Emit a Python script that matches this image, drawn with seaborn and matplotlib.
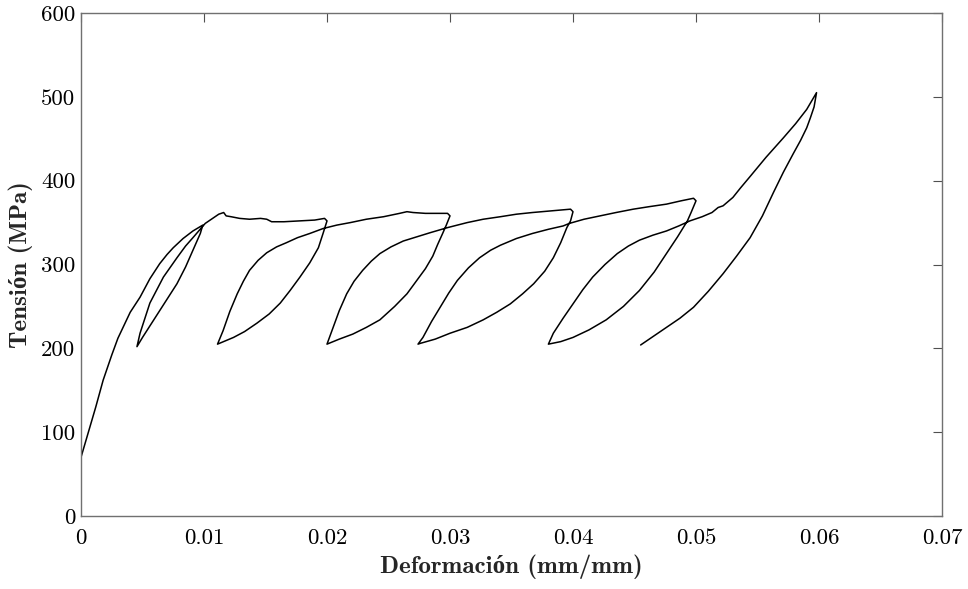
import matplotlib
matplotlib.use("Agg")
import matplotlib.pyplot as plt
import seaborn as sns
import pandas as pd

# ---- data ----
strain = [
    0.0000, 0.0005, 0.0012, 0.0018, 0.0025, 0.0030, 0.0040, 0.0048, 0.0056, 0.0064,
    0.0070, 0.0075, 0.0083, 0.0091, 0.0099,
    # loop 1 unload
    0.0097, 0.0091, 0.0085, 0.0078, 0.0071, 0.0064, 0.0057, 0.0050, 0.00455,
    # loop 1 reload
    0.0048, 0.0052, 0.0056, 0.0062, 0.0067, 0.0078, 0.0085, 0.0091, 0.0098, 0.0101,
    # plateau
    0.0107, 0.0112, 0.0116, 0.0118, 0.0122, 0.0129, 0.0137, 0.0146, 0.0151, 0.0155,
    0.0165, 0.0178, 0.0190, 0.0198, 0.0200,
    # loop 2 unload
    0.0197, 0.0193, 0.0186, 0.0178, 0.0170, 0.0162, 0.0153, 0.0143, 0.0133, 0.0124,
    0.0116, 0.0111,
    # loop 2 reload
    0.01155, 0.0121, 0.0127, 0.0132, 0.0137, 0.0144, 0.0151, 0.0159, 0.0167, 0.0176,
    0.0186, 0.0197, 0.0208, 0.0219, 0.0232, 0.0246, 0.0259, 0.0265, 0.0270, 0.0280,
    0.0290, 0.0298, 0.0300,
    # loop 3 unload
    0.0297, 0.0294, 0.0290, 0.0286, 0.0280, 0.0273, 0.0265, 0.0255, 0.0243, 0.0232,
    0.0221, 0.0210, 0.0200,
    # loop 3 reload
    0.0205, 0.0210, 0.0216, 0.0222, 0.0229, 0.0236, 0.0243, 0.0252, 0.0262, 0.0273,
    0.0284, 0.0298, 0.0314, 0.0327, 0.0341, 0.0354, 0.0367, 0.0383, 0.0398, 0.0400,
    # loop 4 unload
    0.0398, 0.0395, 0.0390, 0.0384, 0.0377, 0.0368, 0.0359, 0.0349, 0.0338, 0.0327,
    0.0314, 0.0300, 0.0288, 0.0276, 0.0274,
    # loop 4 reload
    0.0278, 0.0285, 0.0292, 0.0299, 0.0306, 0.0315, 0.0324, 0.0333, 0.0341, 0.0354,
    0.0367, 0.0380, 0.0392, 0.0397, 0.0409, 0.0422, 0.0435, 0.0449, 0.0462, 0.0476,
    0.0488, 0.0498, 0.0500,
    # loop 5 unload
    0.0496, 0.0493, 0.0485, 0.0476, 0.0466, 0.0454, 0.0441, 0.0427, 0.0413, 0.0400,
    0.0390, 0.0380,
    # loop 5 reload and final loading
    0.0384, 0.0392, 0.0400, 0.0408, 0.0416, 0.0426, 0.0436, 0.0445, 0.0454, 0.0465,
    0.0476, 0.0486, 0.0495, 0.0505, 0.0513, 0.0518, 0.0522, 0.0530, 0.0536, 0.0544,
    0.0557, 0.0571, 0.0581, 0.0590, 0.0598,
    # final unload
    0.0596, 0.0593, 0.0590, 0.0585, 0.0579, 0.0571, 0.0563, 0.0554, 0.0544, 0.0533,
    0.0522, 0.0510, 0.0498, 0.0487, 0.0476, 0.0465, 0.0455,
]
stress = [
    70, 95, 130, 162, 192, 212, 243, 261, 283, 301,
    312, 320, 331, 340, 347,
    337, 317, 297, 277, 261, 245, 229, 213, 202,
    218, 236, 254, 271, 285, 308, 322, 332, 344, 349,
    355, 360, 362, 358, 357, 355, 354, 355, 354, 351,
    351, 352, 353, 355, 352,
    338, 320, 302, 285, 269, 254, 241, 230, 220, 213,
    208, 205,
    221, 244, 265, 280, 293, 305, 314, 321, 326, 332,
    337, 343, 347, 350, 354, 357, 361, 363, 362, 361,
    361, 361, 358,
    347, 337, 324, 310, 295, 281, 265, 250, 234, 225,
    217, 211, 205,
    225, 245, 265, 280, 293, 304, 313, 321, 328, 333,
    338, 344, 350, 354, 357, 360, 362, 364, 366, 363,
    352, 344, 326, 308, 292, 277, 265, 253, 243, 234,
    225, 218, 211, 206, 205,
    213, 232, 249, 266, 281, 296, 308, 317, 323, 331,
    337, 342, 346, 349, 354, 358, 362, 366, 369, 372,
    376, 379, 376,
    362, 352, 333, 313, 291, 269, 250, 234, 222, 213,
    208, 205,
    218, 236, 253, 270, 285, 300, 313, 322, 329, 335,
    340, 346, 352, 357, 362, 368, 370, 380, 391, 405,
    428, 451, 468, 485, 505,
    488, 475, 463, 448, 432, 410, 386, 358, 332, 310,
    289, 268, 249, 236, 225, 214, 204,
]
x_ticks = [0, 0.01, 0.02, 0.03, 0.04, 0.05, 0.06, 0.07]
x_tick_labels = ["0", "0.01", "0.02", "0.03", "0.04", "0.05", "0.06", "0.07"]
y_ticks = [0, 100, 200, 300, 400, 500, 600]
y_tick_labels = ["0", "100", "200", "300", "400", "500", "600"]
x_label = "Deformación (mm/mm)"
y_label = "Tensión (MPa)"

df = pd.DataFrame({"strain": strain, "stress": stress, "order": range(len(strain))})

sns.set_style("white")
plt.rcParams["font.family"] = ["cmr10", "Liberation Serif"]
plt.rcParams["axes.formatter.use_mathtext"] = True
plt.rcParams["axes.unicode_minus"] = False

fig = plt.figure(figsize=(9.68, 5.89), dpi=100)
ax = fig.add_axes([81 / 968, 1 - 516 / 589, (942 - 81) / 968, (516 - 13) / 589])

sns.lineplot(data=df, x="strain", y="stress", sort=False, estimator=None,
             color="black", linewidth=1.1, ax=ax)

ax.set_xlim(0, 0.07)
ax.set_ylim(0, 600)
ax.set_xticks(x_ticks)
ax.set_xticklabels(x_tick_labels)
ax.set_yticks(y_ticks)
ax.set_yticklabels(y_tick_labels)

for s in ax.spines.values():
    s.set_visible(True)
    s.set_color("#707070")
    s.set_linewidth(1.0)

ax.tick_params(axis="both", which="both", direction="in", length=6.5, width=0.8,
               color="#505050", top=True, right=True, labelsize=16.5,
               labelcolor="black")
ax.tick_params(axis="x", pad=9)
ax.tick_params(axis="y", pad=4)

lab_font = dict(family=["cmb10", "Liberation Serif"], fontsize=18, fontweight="bold")
ax.set_xlabel(x_label, fontdict=lab_font, labelpad=5)
ax.set_ylabel(y_label, fontdict=lab_font, labelpad=6)

fig.savefig("out.png", dpi=100, facecolor="white")
